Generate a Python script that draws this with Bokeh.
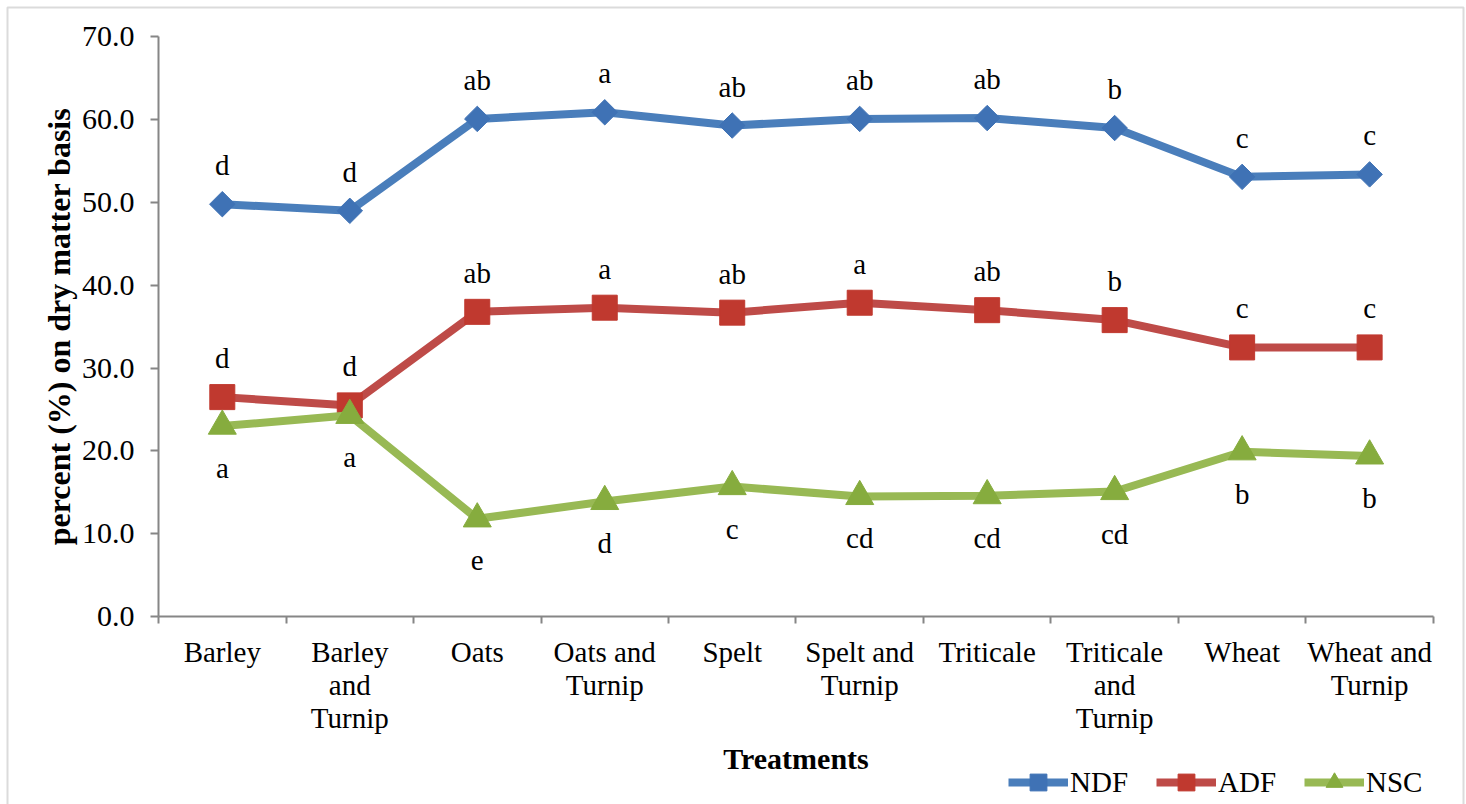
import math
from bokeh.plotting import figure
from bokeh.models import (Range1d, FixedTicker, NumeralTickFormatter, Legend, LegendItem,
                          ColumnDataSource, LinearAxis, BoxAnnotation)
from bokeh.core.properties import value
from bokeh.embed import file_html
from bokeh.resources import INLINE

categories = ["Barley", "Barley and Turnip", "Oats", "Oats and Turnip", "Spelt",
              "Spelt and Turnip", "Triticale", "Triticale and Turnip", "Wheat", "Wheat and Turnip"]
tick_labels = ["Barley", "Barley\nand\nTurnip", "Oats", "Oats and\nTurnip", "Spelt",
               "Spelt and\nTurnip", "Triticale", "Triticale\nand\nTurnip", "Wheat", "Wheat and\nTurnip"]

ndf = [49.8, 49.0, 60.1, 60.9, 59.3, 60.1, 60.2, 59.0, 53.1, 53.4]
adf = [26.5, 25.5, 36.8, 37.3, 36.7, 37.9, 37.0, 35.8, 32.5, 32.5]
nsc = [23.0, 24.3, 11.8, 13.9, 15.7, 14.5, 14.6, 15.1, 19.9, 19.4]

ndf_letters = ["d", "d", "ab", "a", "ab", "ab", "ab", "b", "c", "c"]
adf_letters = ["d", "d", "ab", "a", "ab", "a", "ab", "b", "c", "c"]
nsc_letters = ["a", "a", "e", "d", "c", "cd", "cd", "cd", "b", "b"]

y_ticks = [0, 10, 20, 30, 40, 50, 60, 70]
y_max = 70

FONT = "Liberation Serif"
GRAY = "#868686"

n = len(categories)
xpos = [i + 0.5 for i in range(n)]

# The frame fills the whole canvas; axes are pinned at x=0 / y=0 so the
# legend and the outer border can live inside the frame without clipping.
p = figure(width=1466, height=804, output_backend="svg", toolbar_location=None,
           x_range=Range1d(-1.24, n + 0.26), y_range=Range1d(-22.7, 74.4),
           x_axis_location=None, y_axis_location=None,
           min_border_left=0, min_border_right=0, min_border_top=0, min_border_bottom=0)
p.outline_line_color = None
p.grid.visible = False
p.background_fill_color = "white"
p.border_fill_color = "white"

ax = LinearAxis(fixed_location=0, bounds=(0, n))
ax.ticker = FixedTicker(ticks=xpos, minor_ticks=list(range(n + 1)))
ax.major_label_overrides = {x: lab for x, lab in zip(xpos, tick_labels)}
ax.major_tick_out = 0
ax.major_tick_in = 0
ax.minor_tick_out = 7
ax.minor_tick_in = 0
ax.minor_tick_line_color = GRAY
ax.minor_tick_line_width = 2
ax.axis_line_color = GRAY
ax.axis_line_width = 2
ax.major_label_text_font = FONT
ax.major_label_text_font_size = "29px"
ax.major_label_text_line_height = 1.04
ax.major_label_text_color = "black"
ax.major_label_standoff = 12
ax.axis_label = "Treatments"
ax.axis_label_text_font = FONT
ax.axis_label_text_font_size = "30px"
ax.axis_label_text_font_style = "bold"
ax.axis_label_text_color = "black"
ax.axis_label_standoff = 5
p.add_layout(ax, "below")

ay = LinearAxis(fixed_location=0, bounds=(0, y_max))
ay.ticker = FixedTicker(ticks=y_ticks, minor_ticks=[])
ay.formatter = NumeralTickFormatter(format="0.0")
ay.major_tick_out = 8
ay.major_tick_in = 0
ay.major_tick_line_color = GRAY
ay.major_tick_line_width = 2
ay.axis_line_color = GRAY
ay.axis_line_width = 2
ay.major_label_text_font = FONT
ay.major_label_text_font_size = "30px"
ay.major_label_text_color = "black"
ay.major_label_standoff = 16
ay.axis_label = "percent (%) on dry matter basis"
ay.axis_label_text_font = FONT
ay.axis_label_text_font_size = "32px"
ay.axis_label_text_font_style = "bold"
ay.axis_label_text_color = "black"
ay.axis_label_standoff = 2
p.add_layout(ay, "left")

series = [
    ("NDF", ndf, ndf_letters, "#4a7ebb", "#3f72b5", "square", 18, math.pi / 4, "above"),
    ("ADF", adf, adf_letters, "#be4b48", "#c0392f", "square", 25, 0.0, "above"),
    ("NSC", nsc, nsc_letters, "#98b954", "#86ac3e", "triangle", 28, 0.0, "below"),
]

items = []
for name, vals, letters, lc, mc, marker, size, ang, pos in series:
    src = ColumnDataSource(dict(x=xpos, y=vals, t=letters))
    ln = p.line("x", "y", source=src, line_color=lc, line_width=8, line_join="round")
    sc = p.scatter("x", "y", source=src, marker=marker, size=size, angle=ang,
                   fill_color=mc, line_color=mc, line_width=1)
    off = -39 if pos == "above" else 42
    p.text("x", "y", text="t", source=src, y_offset=off, text_align="center",
           text_baseline="alphabetic", text_font=value(FONT), text_font_size="29px",
           text_color="black")
    items.append(LegendItem(label=name, renderers=[ln, sc]))

legend = Legend(items=items, orientation="horizontal", location=(1008, 1),
                glyph_width=60, glyph_height=42, label_height=42,
                label_standoff=2, spacing=28, padding=0, margin=0,
                label_text_font=FONT, label_text_font_size="29px", label_text_color="black",
                border_line_color=None, background_fill_alpha=0)
p.add_layout(legend, "center")

border = BoxAnnotation(left=7, right=1463, top=7, bottom=812,
                       left_units="canvas", right_units="canvas",
                       top_units="canvas", bottom_units="canvas",
                       fill_alpha=0, line_color="#898989", line_width=2)
p.add_layout(border)

open("out.html", "w").write(file_html(p, INLINE))
